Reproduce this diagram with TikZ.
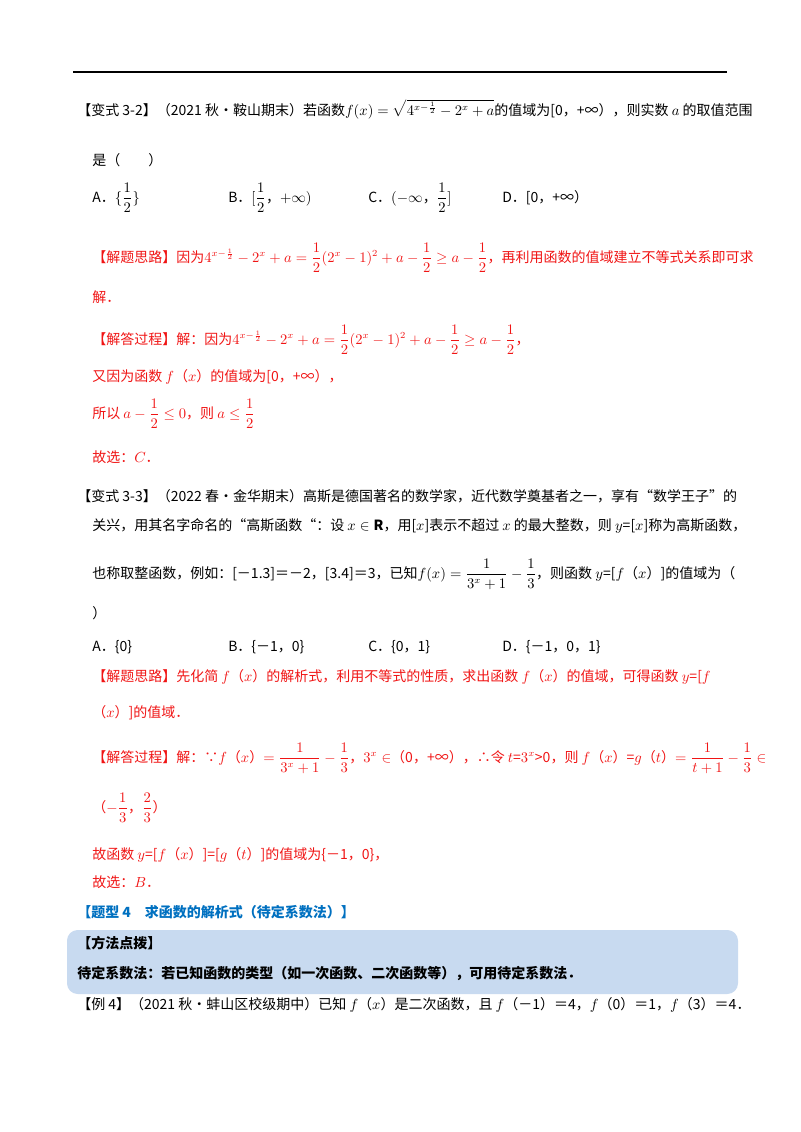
\documentclass[tikz,border=0pt]{standalone}
\usepackage{fontspec}
\usepackage{amsmath,amssymb}
\setmainfont{Noto Sans CJK SC}
\definecolor{rd}{RGB}{240,20,20}
\definecolor{bl}{RGB}{0,112,192}
\definecolor{bx}{RGB}{200,218,240}
\begin{document}
\begin{tikzpicture}[x=0.75pt,y=-0.75pt,
  t/.style={anchor=base west,inner sep=0pt,font=\fontsize{10.5}{12}\selectfont},
  r/.style={t,text=rd}]
\useasboundingbox (0,0) rectangle (800,1132);
\draw[line width=1.2pt] (73,72) -- (727,72);
\node[t] (l1) at (77,115) {【变式 3-2】（2021 秋•鞍山期末）若函数$f(x)=\sqrt{4^{x-\frac12}-2^x+a}$的值域为[0，+∞），则实数 $a$ 的取值范围};
\node[t] (l2) at (92,165) {是（\qquad）};
\node[t] (oa) at (92,202) {A．$\{\dfrac12\}$};
\node[t] (ob) at (228,202) {B．$[\dfrac12$，$+\infty)$};
\node[t] (oc) at (368,202) {C．$(-\infty$，$\dfrac12]$};
\node[t] (od) at (502,202) {D．[0，+∞）};
\node[r] (s1) at (92,262) {【解题思路】因为$4^{x-\frac12}-2^x+a=\dfrac12(2^x-1)^2+a-\dfrac12\geq a-\dfrac12$，再利用函数的值域建立不等式关系即可求};
\node[r] (s2) at (92,302) {解．};
\node[r] (s3) at (92,344) {【解答过程】解：因为$4^{x-\frac12}-2^x+a=\dfrac12(2^x-1)^2+a-\dfrac12\geq a-\dfrac12$，};
\node[r] (s4) at (92,381) {又因为函数 $f$（$x$）的值域为[0，+∞），};
\node[r] (s5) at (92,418) {所以 $a-\dfrac12\leq 0$，则 $a\leq\dfrac12$};
\node[r] (s6) at (92,462) {故选：$C$．};
\node[t] (m1) at (77,501) {【变式 3-3】（2022 春•金华期末）高斯是德国著名的数学家，近代数学奠基者之一，享有“数学王子”的};
\node[t] (m2) at (92,530) {关兴，用其名字命名的“高斯函数“：设 $x\in\mathbf{R}$，用[$x$]表示不超过 $x$ 的最大整数，则 $y$=[$x$]称为高斯函数，};
\node[t] (m3) at (92,578) {也称取整函数，例如：[－1.3]＝－2，[3.4]＝3，已知$f(x)=\dfrac{1}{3^x+1}-\dfrac13$，则函数 $y$=[$f$（$x$）]的值域为（};
\node[t] (m4) at (92,618) {）};
\node[t] (pa) at (92,651) {A．\{0\}};
\node[t] (pb) at (228,651) {B．\{－1，0\}};
\node[t] (pc) at (368,651) {C．\{0，1\}};
\node[t] (pd) at (502,651) {D．\{－1，0，1\}};
\node[r] (q1) at (92,681) {【解题思路】先化简 $f$（$x$）的解析式，利用不等式的性质，求出函数 $f$（$x$）的值域，可得函数 $y$=[$f$};
\node[r] (q2) at (92,717) {（$x$）]的值域．};
\node[r] (q3) at (92,762) {【解答过程】解：∵$f$（$x$）$=\dfrac{1}{3^x+1}-\dfrac13$，$3^x\in$（0，+∞），∴令 $t$=$3^x$>0，则 $f$（$x$）=$g$（$t$）$=\dfrac{1}{t+1}-\dfrac13\in$};
\node[r] (q4) at (92,812) {（$-\dfrac13$，$\dfrac23$）};
\node[r] (q5) at (92,859) {故函数 $y$=[$f$（$x$）]=[$g$（$t$）]的值域为\{－1，0\}，};
\node[r] (q6) at (92,887) {故选：$B$．};
\node[t,text=bl,font=\fontsize{10.5}{12}\selectfont\bfseries] (h4) at (77,917) {【题型 4\quad 求函数的解析式（待定系数法）】};
\fill[bx,rounded corners=8pt] (67,930) rectangle (738,994);
\node[t,font=\fontsize{10.5}{12}\selectfont\bfseries] (b1) at (77,948) {【方法点拨】};
\node[t,font=\fontsize{10.5}{12}\selectfont\bfseries] (b2) at (77,978) {待定系数法：若已知函数的类型（如一次函数、二次函数等），可用待定系数法．};
\node[t] (e4) at (77,1009) {【例 4】（2021 秋•蚌山区校级期中）已知 $f$（$x$）是二次函数，且 $f$（－1）＝4，$f$（0）＝1，$f$（3）＝4．};
\end{tikzpicture}
\end{document}
